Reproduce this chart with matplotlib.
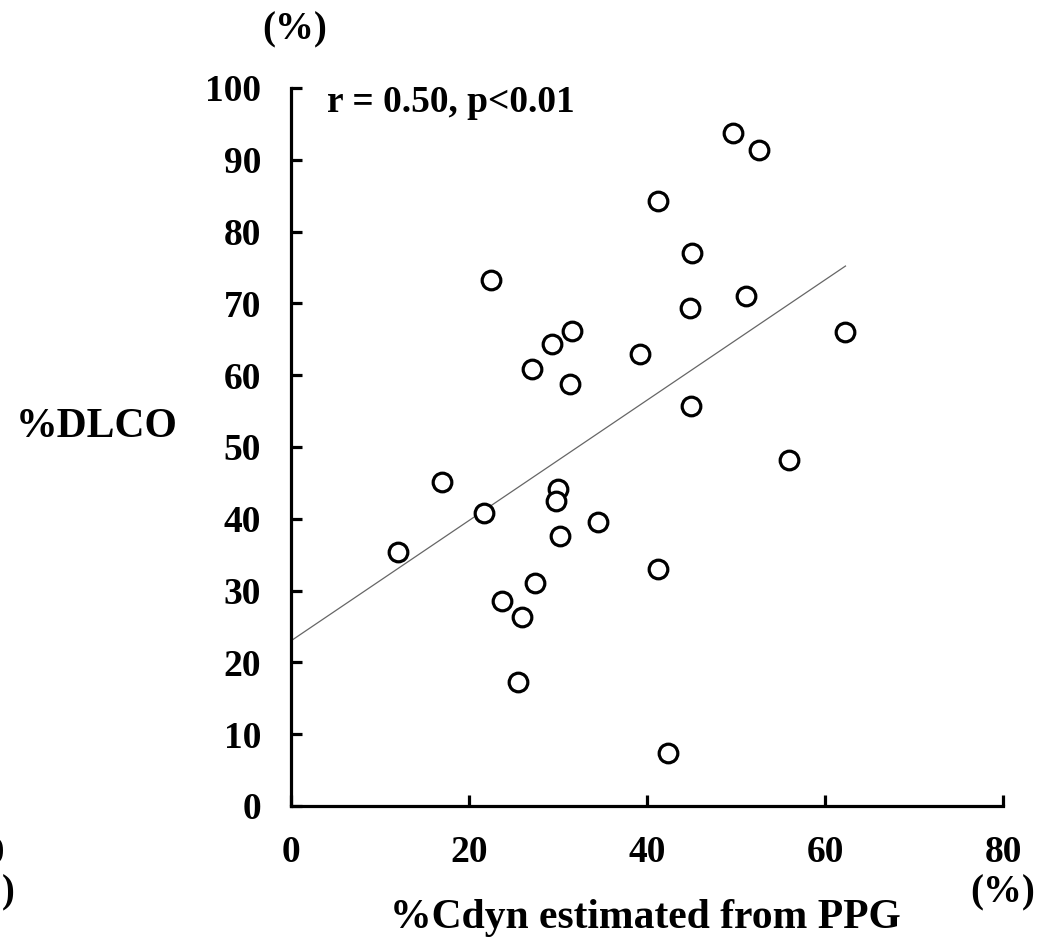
import matplotlib.pyplot as plt
import numpy as np

plt.rcParams['font.family'] = ['Liberation Serif', 'DejaVu Serif']
plt.rcParams['font.weight'] = 'bold'

# %Cdyn estimated from PPG vs %DLCO, one point per subject
cdyn = [12.0, 17.0, 21.7, 22.5, 23.7, 26.0, 25.5, 27.4, 27.1, 29.3, 31.6, 31.3, 30.0, 29.8,
        30.2, 34.5, 39.2, 41.2, 41.2, 42.4, 44.8, 45.1, 44.9, 49.7, 52.6, 51.1, 55.9, 62.3]
dlco = [35.4, 45.1, 40.8, 73.2, 28.6, 26.3, 17.3, 31.0, 60.8, 64.3, 66.2, 58.8, 44.1, 42.5,
        37.6, 39.6, 62.9, 84.3, 33.0, 7.4, 69.4, 77.0, 55.7, 93.7, 91.3, 71.0, 48.2, 66.0]

# regression line end points
fit_x = [0, 62.3]
fit_y = [23.0, 75.2]

xticks = [0, 20, 40, 60, 80]
yticks = list(range(0, 101, 10))

fig = plt.figure(figsize=(10.41, 9.47), dpi=100)
ax = fig.add_axes([0.2795, 0.1489, 0.684, 0.7582])

ax.plot(fit_x, fit_y, color='#666666', lw=0.9, zorder=2)
ax.scatter(cdyn, dlco, s=180, facecolors='white', edgecolors='black', linewidths=2.3, zorder=3)

ax.set_xlim(0, 80)
ax.set_ylim(0, 100)
ax.set_xticks(xticks)
ax.set_yticks(yticks)

for side in ['top', 'right']:
    ax.spines[side].set_visible(False)
for side in ['left', 'bottom']:
    ax.spines[side].set_linewidth(2.3)

ax.tick_params(axis='both', direction='in', length=8, width=2.3, labelsize=27)
ax.tick_params(axis='y', pad=21.5)
ax.tick_params(axis='x', pad=21)
for lab in ax.get_xticklabels() + ax.get_yticklabels():
    lab.set_fontweight('bold')

ax.text(36 / 712, 0.98, 'r = 0.50, p<0.01', transform=ax.transAxes, fontsize=27,
        fontweight='bold', ha='left', va='center')

fig.text(295 / 1041, 1 - 30 / 947, '(%)', fontsize=28, fontweight='bold', ha='center', va='center')
fig.text(97 / 1041, 1 - 437 / 947, '%DLCO', fontsize=30, fontweight='bold', ha='center', va='baseline')
fig.text(1035 / 1041, 1 - 893 / 947, '(%)', fontsize=28, fontweight='bold', ha='right', va='center')
fig.text(645 / 1041, 1 - 918 / 947, '%Cdyn estimated from PPG', fontsize=30, fontweight='bold',
         ha='center', va='center')

# edge of the neighbouring panel
fig.text(5 / 1041, 1 - 853 / 947, '80', fontsize=27, fontweight='bold', ha='right', va='center')
fig.text(15 / 1041, 1 - 893 / 947, '(%)', fontsize=28, fontweight='bold', ha='right', va='center')

fig.savefig('out.png', dpi=100, facecolor='white')
